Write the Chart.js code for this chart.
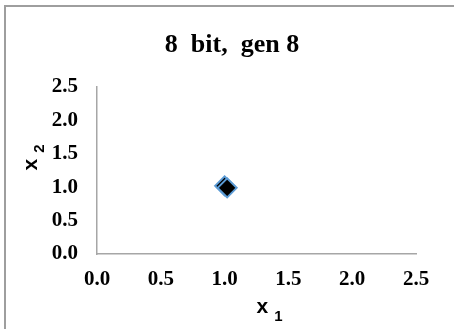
<!DOCTYPE html>
<html>
<head>
<meta charset="utf-8">
<script src="https://cdn.jsdelivr.net/npm/chart.js@4/dist/chart.umd.min.js"></script>
<style>
  html, body { margin: 0; padding: 0; background: #ffffff; }
  #wrap { position: relative; width: 454px; height: 329px; }
</style>
</head>
<body>
<div id="wrap"><canvas id="c" width="454" height="329"></canvas></div>
<script>
// Population of generation 8 (8-bit encoding) and its best individual
const titleText = '8  bit,  gen 8';
const popX = [1.00, 1.02];
const popY = [1.02, 0.99];
const bestX = [1.00];
const bestY = [1.00];
const axisMin = 0;
const axisMax = 2.5;
const axisStep = 0.5;
const xTitle = ['x', '1'];
const yTitle = ['x', '2'];

const toPoints = (xs, ys) => xs.map((x, i) => ({ x: x, y: ys[i] }));

const serif = '"Liberation Serif", "Times New Roman", serif';
const sans = '"Liberation Sans", Arial, sans-serif';
const axisGrey = '#a6a6a6';

// Frame, title and the subscripted axis titles
const decorations = {
  id: 'decorations',
  afterDraw(chart) {
    const ctx = chart.ctx;
    const area = chart.chartArea;
    ctx.save();
    // outer frame (left and top edges)
    ctx.strokeStyle = '#9e9e9e';
    ctx.lineWidth = 2;
    ctx.beginPath();
    ctx.moveTo(5, 340);
    ctx.lineTo(5, 6);
    ctx.lineTo(470, 6);
    ctx.stroke();

    ctx.fillStyle = '#000000';
    // title
    ctx.font = 'bold 26px ' + serif;
    ctx.textAlign = 'center';
    ctx.textBaseline = 'alphabetic';
    ctx.fillText(titleText, 232, 52);

    // x-axis title
    const cx = (area.left + area.right) / 2;
    ctx.textAlign = 'left';
    ctx.font = 'bold 21px ' + sans;
    ctx.fillText(xTitle[0], cx, 313);
    const wx = ctx.measureText(xTitle[0]).width;
    ctx.font = 'bold 15px ' + sans;
    ctx.fillText(xTitle[1], cx + wx + 6, 321);

    // y-axis title (rotated)
    const cy = (area.top + area.bottom) / 2;
    ctx.translate(37, cy);
    ctx.rotate(-Math.PI / 2);
    ctx.font = 'bold 21px ' + sans;
    ctx.fillText(yTitle[0], 0, 0);
    const wy = ctx.measureText(yTitle[0]).width;
    ctx.font = 'bold 15px ' + sans;
    ctx.fillText(yTitle[1], wy + 6, 7);
    ctx.restore();
  }
};

const tickFont = { family: serif, size: 21, weight: 'bold' };

new Chart(document.getElementById('c'), {
  type: 'scatter',
  data: {
    datasets: [
      {
        label: 'population',
        data: toPoints(popX, popY),
        pointStyle: 'rectRot',
        pointRadius: 9.5,
        backgroundColor: '#000000',
        borderColor: '#5b9bd5',
        borderWidth: 2
      },
      {
        label: 'best',
        data: toPoints(bestX, bestY),
        pointStyle: 'rectRot',
        pointRadius: 8,
        backgroundColor: '#000000',
        borderColor: '#000000',
        borderWidth: 1
      }
    ]
  },
  options: {
    responsive: false,
    animation: false,
    events: [],
    layout: { padding: { left: 0, top: 87, right: 38, bottom: 0 } },
    plugins: {
      legend: { display: false },
      title: { display: false },
      tooltip: { enabled: false }
    },
    scales: {
      x: {
        type: 'linear',
        min: axisMin,
        max: axisMax,
        grid: { display: false, drawTicks: false },
        border: { display: true, color: axisGrey, width: 1.5 },
        ticks: {
          stepSize: axisStep,
          color: '#000000',
          font: tickFont,
          padding: 13,
          maxRotation: 0,
          callback: v => v.toFixed(1)
        },
        afterFit(scale) { scale.height = 75; }
      },
      y: {
        type: 'linear',
        min: axisMin,
        max: axisMax,
        grid: { display: false, drawTicks: false },
        border: { display: true, color: axisGrey, width: 1.5 },
        ticks: {
          stepSize: axisStep,
          color: '#000000',
          font: tickFont,
          padding: 19,
          callback: v => v.toFixed(1)
        },
        afterFit(scale) { scale.width = 97; }
      }
    }
  },
  plugins: [decorations]
});
</script>
</body>
</html>
